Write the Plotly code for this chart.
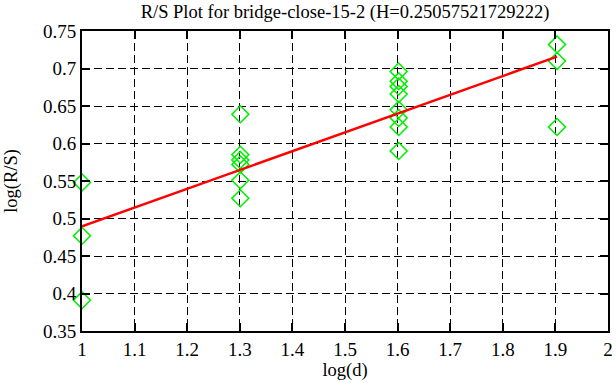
import plotly.graph_objects as go

# data
x_vals = [1.0, 1.0, 1.0,
          1.30103, 1.30103, 1.30103, 1.30103, 1.30103, 1.30103,
          1.60206, 1.60206, 1.60206, 1.60206, 1.60206, 1.60206, 1.60206, 1.60206,
          1.90309, 1.90309, 1.90309]
y_vals = [0.548, 0.477, 0.391,
          0.639, 0.585, 0.578, 0.572, 0.551, 0.527,
          0.696, 0.683, 0.676, 0.666, 0.645, 0.634, 0.622, 0.590,
          0.732, 0.710, 0.622]
fit_x = [1.0, 1.90309]
fit_y = [0.4895, 0.7158]
x_ticks = [1, 1.1, 1.2, 1.3, 1.4, 1.5, 1.6, 1.7, 1.8, 1.9, 2]
y_ticks = [0.35, 0.4, 0.45, 0.5, 0.55, 0.6, 0.65, 0.7, 0.75]
x_tick_text = ["1", "1.1", "1.2", "1.3", "1.4", "1.5", "1.6", "1.7", "1.8", "1.9", "2"]
y_tick_text = ["0.35", "0.4", "0.45", "0.5", "0.55", "0.6", "0.65", "0.7", "0.75"]

font = "Liberation Serif"
tsize = 19
lsize = 18.5

fig = go.Figure()
fig.add_trace(go.Scatter(x=x_vals, y=y_vals, mode="markers",
                         marker=dict(symbol="diamond-open", size=13, color="#00ee00",
                                     line=dict(width=1.6, color="#00ee00")),
                         cliponaxis=False, showlegend=False, hoverinfo="skip"))
fig.add_trace(go.Scatter(x=fit_x, y=fit_y, mode="lines",
                         line=dict(color="#ff0000", width=2.5), showlegend=False, hoverinfo="skip"))

axis_common = dict(showline=True, linecolor="black", linewidth=2, mirror="ticks",
                   ticks="inside", ticklen=8, tickwidth=1.5, tickcolor="black",
                   showgrid=True, gridcolor="black", gridwidth=1, griddash="8px,4px",
                   zeroline=False, automargin=False, ticklabeloverflow="allow",
                   tickfont=dict(family=font, size=tsize, color="black"))

fig.update_layout(
    width=616, height=387,
    margin=dict(l=82, r=8, t=31, b=56),
    paper_bgcolor="white", plot_bgcolor="white",
    title=dict(text="R/S Plot for bridge-close-15-2 (H=0.25057521729222)",
               x=(82 + 608) / 2 / 616, xanchor="center", xref="container",
               y=1 - 12 / 387, yanchor="middle", yref="container",
               font=dict(family=font, size=lsize, color="black")),
    xaxis=dict(range=[1, 2.0000001], tickvals=x_ticks, ticktext=x_tick_text,
               title=dict(text="log(d)", font=dict(family=font, size=lsize, color="black"), standoff=3),
               **axis_common),
    yaxis=dict(range=[0.35, 0.75], tickvals=y_ticks, ticktext=y_tick_text,
               title=dict(text="log(R/S)", font=dict(family=font, size=lsize, color="black"), standoff=20),
               **axis_common),
)

fig.write_html("out.html", config={"displayModeBar": False},
               post_script="document.body.style.margin='0';")
